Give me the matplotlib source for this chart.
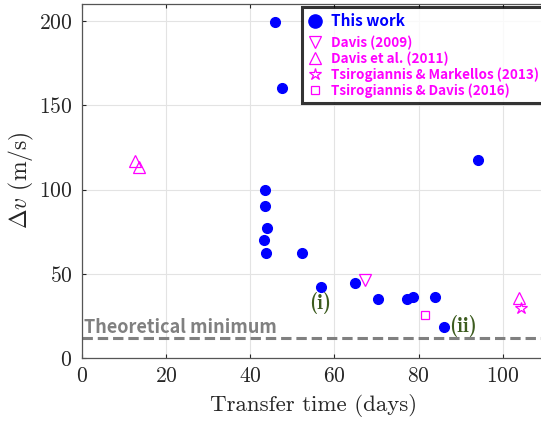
import matplotlib
matplotlib.use("Agg")
import matplotlib.pyplot as plt
from matplotlib.offsetbox import DrawingArea

plt.rcParams["font.family"] = "serif"
plt.rcParams["font.serif"] = ["cmr10"]
plt.rcParams["mathtext.fontset"] = "cm"
plt.rcParams["axes.formatter.use_mathtext"] = True

# this work
this_x = [45.8, 47.6, 43.4, 43.5, 44.0, 43.3, 43.7, 52.2, 56.7, 64.9,
          70.3, 77.2, 78.8, 83.8, 86.1, 94.2]
this_y = [199.7, 160.1, 99.8, 90.3, 77.5, 70.2, 62.3, 62.3, 42.5, 44.5,
          35.4, 35.0, 36.5, 36.2, 18.7, 117.6]

# literature
davis2009_x = [67.3]
davis2009_y = [46.4]
davis2011_x = [12.6, 13.5, 104.0]
davis2011_y = [117.0, 113.6, 36.0]
tsm2013_x = [104.3]
tsm2013_y = [29.7]
tsd2016_x = [81.6]
tsd2016_y = [25.7]

theoretical_min = 11.9

labels = ["This work", "Davis (2009)", "Davis et al. (2011)",
          "Tsirogiannis & Markellos (2013)", "Tsirogiannis & Davis (2016)"]

blue = "#0000ff"
mag = "#ff00ff"
green = "#3d5c1f"
gray = "#808080"
sans = ["Noto Sans CJK JP", "DejaVu Sans"]

fig = plt.figure(figsize=(5.41, 4.21), dpi=100)
ax = fig.add_axes([0.1516, 0.1489, 0.8553, 0.8409])

h0, = ax.plot(this_x, this_y, "o", color=blue, ms=7, ls="none", zorder=4)
h1, = ax.plot(davis2009_x, davis2009_y, "v", mfc="none", mec=mag, ms=8, mew=0.9, ls="none")
h2, = ax.plot(davis2011_x, davis2011_y, "^", mfc="none", mec=mag, ms=8, mew=0.9, ls="none")
h3, = ax.plot(tsm2013_x, tsm2013_y, "*", mfc="none", mec=mag, ms=9, mew=0.9, ls="none")
h4, = ax.plot(tsd2016_x, tsd2016_y, "s", mfc="none", mec=mag, ms=6, mew=0.9, ls="none")

ax.axhline(theoretical_min, color=gray, ls=(0, (3.4, 1.6)), lw=2.2, zorder=2)
ax.text(0.5, 15.2, "Theoretical minimum", color=gray,
        fontsize=13, fontweight="bold", family=sans, va="baseline", ha="left")

ax.text(56.6, 32.8, "(i)", color=green, fontsize=15,
        ha="center", va="center", family="cmb10")
ax.text(90.6, 19.2, "(ii)", color=green, fontsize=15,
        ha="center", va="center", family="cmb10")

ax.set_xlim(0, 110)
ax.set_ylim(0, 210)
ax.set_xticks([0, 20, 40, 60, 80, 100])
ax.set_yticks([0, 50, 100, 150, 200])
ax.grid(True, color="#e3e3e3", lw=0.8)
ax.set_axisbelow(True)
ax.tick_params(direction="in", length=3, top=True, right=True,
               labelsize=15.5, colors="#262626", width=0.8)
ax.tick_params(axis="x", pad=6)
ax.tick_params(axis="y", pad=7)
for s in ax.spines.values():
    s.set_color("#555555")
    s.set_linewidth(0.9)

ax.set_xlabel("Transfer time (days)", fontsize=16.5, color="#262626", labelpad=6)
ax.set_ylabel(r"$\Delta v$ (m/s)", fontsize=17, color="#262626")
ax.yaxis.set_label_coords(-0.1, 0.503)

leg = ax.legend([h0, h1, h2, h3, h4], labels, loc="upper left",
                bbox_to_anchor=(0.475, 0.991), frameon=True, fancybox=False,
                borderpad=0.4, labelspacing=0.1, handletextpad=0.55,
                handlelength=1.2, borderaxespad=0,
                prop={"family": sans, "weight": "bold", "size": 9.7})
leg.get_frame().set_edgecolor("black")
leg.get_frame().set_linewidth(2.2)
leg.legend_handles[0].set_markersize(9.5)
texts = leg.get_texts()
texts[0].set_color(blue)
texts[0].set_fontsize(11)
for t in texts[1:]:
    t.set_color(mag)

# extra gap under "This work"
gap = DrawingArea(1, 3)
gap.set_figure(fig)
leg._legend_handle_box.get_children()[0].get_children().insert(1, gap)

fig.savefig("out.png", dpi=100)
